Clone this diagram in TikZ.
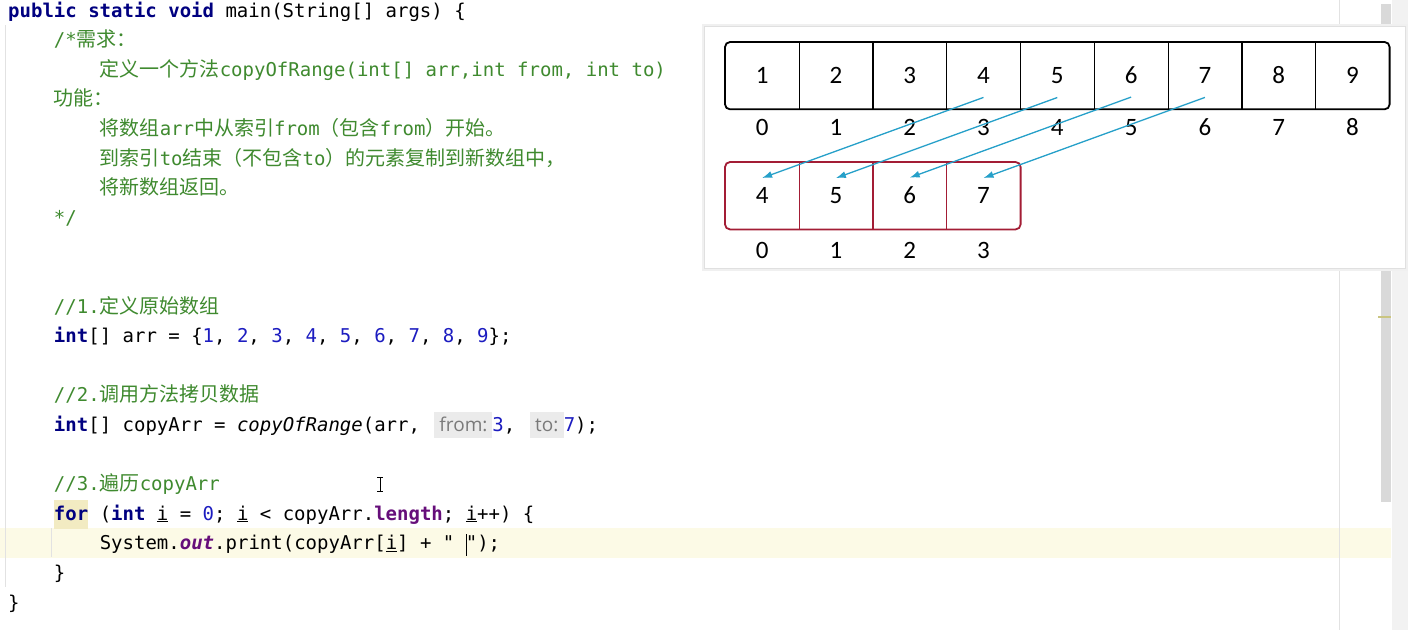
\documentclass[tikz,border=0pt]{standalone}
\usepackage{fontspec}
\setmonofont{DejaVu Sans Mono}
\newfontfamily\cjk{Noto Sans CJK SC}
\newfontfamily\hintfont{Open Sans}
\newfontfamily\cellfont{Carlito}
\usetikzlibrary{matrix,arrows.meta}

\definecolor{kwnavy}{HTML}{000080}
\definecolor{numblue}{HTML}{1C1CC0}
\definecolor{cmtgreen}{HTML}{3F8A2F}
\definecolor{fieldpurple}{HTML}{660E7A}
\definecolor{hintbg}{HTML}{EBEBEB}
\definecolor{hinttext}{HTML}{7A7A7A}
\definecolor{curline}{HTML}{FCFAE6}
\definecolor{forbg}{HTML}{F2EBC2}
\definecolor{guide}{HTML}{E2E2E2}
\definecolor{arrowblue}{HTML}{26A0C9}
\definecolor{cpred}{HTML}{A31D35}

\newlength\cwidth
\setlength\cwidth{11.45pt}
\newcommand\ind[1]{\hspace*{#1\cwidth}}
\newcommand\zh[1]{{\cjk\fontsize{20}{22}\selectfont#1}}
\newcommand\kw[1]{\textcolor{kwnavy}{\bfseries#1}}
\newcommand\nm[1]{\textcolor{numblue}{#1}}
\newcommand\cmt[1]{\textcolor{cmtgreen}{#1}}
\newcommand\fld[1]{\textcolor{fieldpurple}{\bfseries#1}}
\newcommand\hint[2]{\hspace{3pt}{\setlength\fboxsep{0pt}\colorbox{hintbg}{\vrule height 19pt depth 7pt width 0pt\makebox[#1]{\hintfont\fontsize{19}{20}\selectfont\color{hinttext}#2}}}}
\newcommand\forbox[1]{{\setlength\fboxsep{0pt}\colorbox{forbg}{\vrule height 20pt depth 9pt width 0pt#1}}}
\newcommand\txtcursor{\rlap{\vrule height 16pt depth 6pt width 1.6pt}}

\begin{document}
\begin{tikzpicture}[x=1pt,y=-1pt,
        codeline/.style={anchor=base west,inner sep=0pt,font=\ttfamily\fontsize{19}{22}\selectfont},
        cell/.style={minimum width=73.8pt,minimum height=67pt,inner sep=0pt,font=\cellfont\fontsize{25}{25}\selectfont},
        idx/.style={minimum height=20pt},
        arrbox/.style={line width=1.8pt,rounded corners=5pt},
        copyarrow/.style={color=arrowblue,line width=1.3pt,-{Latex[length=10pt,width=7pt]}}]
        \useasboundingbox (0,0) rectangle (1408,630);
        \fill[white] (0,0) rectangle (1408,630);
        \fill[curline] (0,528) rectangle (1391,558);
        \draw[guide,line width=1pt] (5,25) -- (5,587);
        \draw[guide,line width=1pt] (51,528) -- (51,557);
        \draw[guide,line width=1pt] (1339,0) -- (1339,630);
        \fill[black!5] (1392,0) rectangle (1408,630);
        \fill[black!15] (1381,4) rectangle (1391,502);
        \fill[yellow!60!black!60] (1378,316) rectangle (1391,318);

        \matrix (code) [
            matrix of nodes,
            matrix anchor=code-1-1.base west,
            row sep={29.6pt,between origins},
            nodes={codeline}
        ] at (8,17)
        { \kw{public static void} main(String[] args) \{ \\
          \ind{4}\cmt{/*\zh{需求：}} \\
          \ind{8}\cmt{\zh{定义一个方法}copyOfRange(int[] arr,int from, int to)} \\
          \ind{4}\cmt{\zh{功能：}} \\
          \ind{8}\cmt{\zh{将数组}arr\zh{中从索引}from\zh{（包含}from\zh{）开始。}} \\
          \ind{8}\cmt{\zh{到索引}to\zh{结束（不包含}to\zh{）的元素复制到新数组中，}} \\
          \ind{8}\cmt{\zh{将新数组返回。}} \\
          \ind{4}\cmt{*/} \\
          \mbox{} \\
          \mbox{} \\
          \ind{4}\cmt{//1.\zh{定义原始数组}} \\
          \ind{4}\kw{int}[] arr = \{\nm{1}, \nm{2}, \nm{3}, \nm{4}, \nm{5}, \nm{6}, \nm{7}, \nm{8}, \nm{9}\}; \\
          \mbox{} \\
          \ind{4}\cmt{//2.\zh{调用方法拷贝数据}} \\
          \ind{4}\kw{int}[] copyArr = \textit{copyOfRange}(arr, \hint{58pt}{from:}\nm{3}, \hint{34pt}{to:}\nm{7}); \\
          \mbox{} \\
          \ind{4}\cmt{//3.\zh{遍历}copyArr} \\
          \ind{4}\forbox{\kw{for}} (\kw{int} \underline{i} = \nm{0}; \underline{i} < copyArr.\fld{length}; \underline{i}++) \{ \\
          \ind{8}System.\fld{\itshape out}.print(copyArr[\underline{i}] + " \txtcursor"); \\
          \ind{4}\} \\
          \} \\
        };

        \draw[line width=1pt] (377,477) -- (383,477) (380,477) -- (380,491) (377,491) -- (383,491);

        \fill[black!6] (702,24) rectangle (1408,271);
        \fill[black!12] (704,26) rectangle (1406,269);
        \fill[white] (705,27) rectangle (1405,268);

        \matrix (arr) [
            matrix of nodes,
            matrix anchor=arr-1-1.north west,
            row sep=8pt,
            column sep=0pt,
            nodes={cell},
            row 2/.style={nodes={idx}}
        ] at (725,42)
        { 1 & 2 & 3 & 4 & 5 & 6 & 7 & 8 & 9 \\
          0 & 1 & 2 & 3 & 4 & 5 & 6 & 7 & 8 \\
        };

        \matrix (cp) [
            matrix of nodes,
            matrix anchor=cp-1-1.north west,
            row sep=11pt,
            column sep=0pt,
            nodes={cell},
            row 2/.style={nodes={idx}}
        ] at (725,162)
        { 4 & 5 & 6 & 7 \\
          0 & 1 & 2 & 3 \\
        };

        \draw[arrbox] (arr-1-1.north west) rectangle (arr-1-9.south east);
        \draw[arrbox,cpred] (cp-1-1.north west) rectangle (cp-1-4.south east);

        \path[line width=1.3pt]
        (arr-1-1.north east) edge (arr-1-1.south east)
        (arr-1-2.north east) edge (arr-1-2.south east)
        (arr-1-3.north east) edge (arr-1-3.south east)
        (arr-1-4.north east) edge (arr-1-4.south east)
        (arr-1-5.north east) edge (arr-1-5.south east)
        (arr-1-6.north east) edge (arr-1-6.south east)
        (arr-1-7.north east) edge (arr-1-7.south east)
        (arr-1-8.north east) edge (arr-1-8.south east);

        \path[color=cpred,line width=1.3pt]
        (cp-1-1.north east) edge (cp-1-1.south east)
        (cp-1-2.north east) edge (cp-1-2.south east)
        (cp-1-3.north east) edge (cp-1-3.south east);

        \path[copyarrow]
        ([yshift=12pt]arr-1-4.south) edge ([yshift=-16pt]cp-1-1.north)
        ([yshift=12pt]arr-1-5.south) edge ([yshift=-16pt]cp-1-2.north)
        ([yshift=12pt]arr-1-6.south) edge ([yshift=-16pt]cp-1-3.north)
        ([yshift=12pt]arr-1-7.south) edge ([yshift=-16pt]cp-1-4.north);
\end{tikzpicture}
\end{document}
